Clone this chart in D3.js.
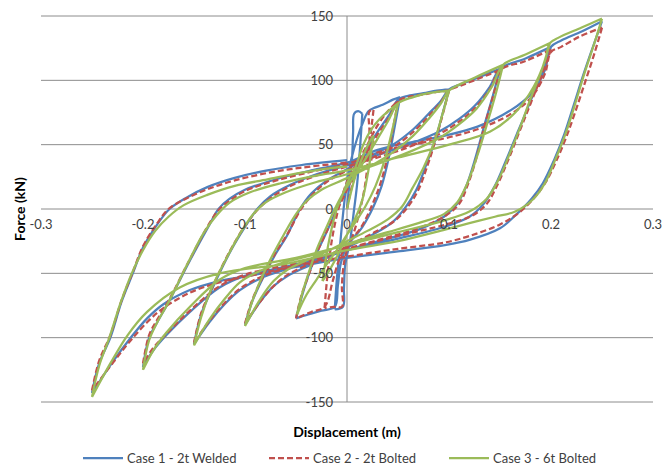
<!DOCTYPE html>
<html>
<head>
<meta charset="utf-8">
<script src="https://cdn.jsdelivr.net/npm/d3@7"></script>
<style>
  body { margin: 0; background: #fff; }
  svg text { font-family: Lato, "Liberation Sans", sans-serif; fill: #404040; }
</style>
</head>
<body>
<div id="chart"></div>
<script>
const xTicks = [-0.3, -0.2, -0.1, 0, 0.1, 0.2, 0.3];
const yTicks = [-150, -100, -50, 0, 50, 100, 150];
const seriesNames = ["Case 1 - 2t Welded", "Case 2 - 2t Bolted", "Case 3 - 6t Bolted"];

// displacement (m), force (kN)
const case1 = [
  [0,0],[0.003,25],[0.005,40],[0.006,60],[0.007,74],[0.011,76],[0.015,74],
  [0.013,50],[0.01,20],[0.007,0],[0.003,-25],[0,-36],[-0.002,-45],[-0.003,-62],[-0.004,-76],[-0.012,-78],
  [-0.01,-55],[-0.007,-30],[-0.004,-5],[0,22],[0.004,38],[0.01,55],[0.016,68],[0.021,76],[0.028,79],[0.035,81],[0.045,85],[0.052,87],
  [0.047,65],[0.041,40],[0.034,18],[0.026,2],[0.015,-14],[0,-29],[-0.006,-42],[-0.009,-60],[-0.012,-76],[-0.025,-79],[-0.038,-82],[-0.05,-85],
  [-0.045,-70],[-0.038,-52],[-0.03,-35],[-0.02,-18],[-0.01,0],[0,17],[0.008,30],[0.018,45],[0.03,60],[0.042,74],[0.05,85],[0.06,88],[0.075,90],[0.088,92],[0.1,93],
  [0.094,75],[0.087,55],[0.078,35],[0.068,15],[0.058,2],[0.045,-10],[0.025,-20],[0,-30],[-0.02,-38],[-0.04,-45],[-0.058,-52],[-0.072,-60],[-0.085,-72],[-0.1,-90],
  [-0.093,-72],[-0.082,-53],[-0.07,-35],[-0.059,-21],[-0.046,0],[-0.035,12],[-0.02,22],[0,31],[0.02,40],[0.045,50],[0.065,62],[0.08,74],[0.092,84],[0.1,93],[0.112,97],[0.128,102],[0.15,109],
  [0.143,88],[0.135,66],[0.126,40],[0.117,18],[0.108,4],[0.095,-6],[0.07,-16],[0.04,-23],[0,-32],[-0.03,-40],[-0.06,-47],[-0.085,-54],[-0.105,-63],[-0.12,-74],[-0.135,-88],[-0.15,-105],
  [-0.143,-82],[-0.131,-60],[-0.115,-34],[-0.1,-14],[-0.088,0],[-0.075,10],[-0.055,19],[-0.03,27],[0,34],[0.03,42],[0.06,50],[0.09,60],[0.11,70],[0.125,80],[0.14,95],[0.15,109],[0.175,117],[0.2,126],
  [0.19,104],[0.18,84],[0.168,61],[0.156,38],[0.145,18],[0.134,4],[0.12,-6],[0.095,-14],[0.05,-23],[0,-32],[-0.05,-43],[-0.1,-52],[-0.125,-61],[-0.154,-80],[-0.177,-98],[-0.19,-110],[-0.2,-123],
  [-0.194,-100],[-0.186,-88],[-0.174,-71],[-0.154,-40],[-0.134,-11],[-0.126,0],[-0.115,8],[-0.1,15],[-0.07,23],[-0.035,30],[0,36],[0.03,46],[0.064,52],[0.096,57],[0.128,64],[0.161,77],[0.181,90],[0.194,108],[0.2,126],[0.21,131],[0.23,138],[0.25,146],
  [0.242,128],[0.232,105],[0.222,80],[0.213,58],[0.203,38],[0.192,20],[0.181,8],[0.165,-5],[0.15,-15],[0.12,-24],[0.096,-28],[0.05,-33],[0,-38],[-0.05,-45],[-0.09,-51],[-0.125,-56],[-0.154,-63],[-0.18,-74],[-0.196,-85],[-0.213,-101],[-0.229,-118],[-0.25,-143],
  [-0.243,-120],[-0.232,-100],[-0.221,-72],[-0.21,-50],[-0.2,-30],[-0.186,-12],[-0.174,0],[-0.157,9],[-0.137,17],[-0.111,24],[-0.078,30],[-0.046,34],[-0.013,37],[0,38]
];

const case2 = [
  [0,0],[0.005,18],[0.01,30],[0.016,38],[0.021,42],[0.022,60],[0.022,76],[0.026,77],
  [0.022,50],[0.018,20],[0.013,0],[0.006,-20],[0,-32],[-0.003,-42],[-0.005,-60],[-0.005,-76],[-0.013,-76],[-0.022,-77],
  [-0.019,-50],[-0.015,-25],[-0.01,-5],[-0.004,12],[0.002,25],[0.01,36],[0.02,50],[0.03,65],[0.04,76],[0.05,84],
  [0.045,62],[0.039,38],[0.032,18],[0.024,2],[0.014,-14],[0,-28],[-0.008,-40],[-0.014,-56],[-0.022,-76],[-0.035,-80],[-0.05,-85],
  [-0.045,-68],[-0.037,-50],[-0.029,-33],[-0.019,-16],[-0.009,0],[0,15],[0.008,28],[0.018,42],[0.03,58],[0.042,72],[0.05,84],[0.06,87],[0.075,89],[0.088,91],[0.1,92],
  [0.094,74],[0.087,54],[0.079,34],[0.07,15],[0.06,2],[0.047,-9],[0.025,-19],[0,-29],[-0.02,-37],[-0.04,-44],[-0.058,-51],[-0.072,-60],[-0.085,-72],[-0.1,-89],
  [-0.093,-71],[-0.082,-52],[-0.07,-34],[-0.058,-19],[-0.045,0],[-0.034,11],[-0.02,21],[0,30],[0.02,38],[0.045,48],[0.065,60],[0.08,72],[0.092,83],[0.1,92],[0.112,96],[0.128,101],[0.15,108],
  [0.143,87],[0.135,65],[0.127,40],[0.118,18],[0.11,4],[0.097,-5],[0.07,-15],[0.04,-22],[0,-31],[-0.03,-39],[-0.06,-46],[-0.085,-53],[-0.105,-62],[-0.12,-73],[-0.135,-87],[-0.15,-104],
  [-0.143,-81],[-0.131,-59],[-0.115,-33],[-0.1,-13],[-0.087,0],[-0.074,9],[-0.055,18],[-0.03,26],[0,33],[0.03,40],[0.06,48],[0.09,58],[0.11,68],[0.125,78],[0.14,93],[0.15,108],[0.175,115],[0.2,124],
  [0.19,102],[0.18,82],[0.169,60],[0.158,38],[0.147,18],[0.137,4],[0.123,-5],[0.097,-12],[0.05,-21],[0,-31],[-0.05,-42],[-0.1,-51],[-0.125,-60],[-0.154,-79],[-0.177,-97],[-0.19,-108],[-0.2,-120],
  [-0.194,-98],[-0.186,-86],[-0.174,-70],[-0.154,-39],[-0.134,-10],[-0.125,0],[-0.114,7],[-0.1,14],[-0.07,22],[-0.035,29],[0,35],[0.03,44],[0.064,50],[0.096,55],[0.128,62],[0.161,74],[0.181,87],[0.194,105],[0.2,122],[0.21,126],[0.228,134],[0.25,141],
  [0.243,122],[0.234,100],[0.224,76],[0.215,56],[0.205,37],[0.195,21],[0.185,10],[0.17,-2],[0.15,-12],[0.12,-21],[0.096,-26],[0.05,-31],[0,-37],[-0.05,-44],[-0.09,-51],[-0.125,-57],[-0.154,-65],[-0.18,-77],[-0.196,-88],[-0.213,-103],[-0.229,-119],[-0.25,-141],
  [-0.243,-118],[-0.232,-98],[-0.221,-71],[-0.21,-49],[-0.2,-29],[-0.186,-11],[-0.175,0],[-0.158,8],[-0.138,15],[-0.111,22],[-0.078,28],[-0.046,32],[-0.013,35],[0,36]
];

const case3 = [
  [0,0],[0.008,25],[0.016,42],[0.022,52],[0.026,57],
  [0.021,30],[0.016,10],[0.012,0],[0.004,-14],[0,-20],[-0.008,-34],[-0.016,-46],[-0.024,-56],
  [-0.02,-35],[-0.015,-15],[-0.01,0],[-0.003,14],[0,20],[0.008,32],[0.016,50],[0.024,62],[0.032,70],[0.042,77],[0.05,82],
  [0.044,60],[0.037,38],[0.028,18],[0.018,2],[0.01,-8],[0,-20],[-0.01,-32],[-0.02,-43],[-0.03,-55],[-0.04,-67],[-0.049,-82],
  [-0.044,-66],[-0.037,-48],[-0.029,-30],[-0.02,-14],[-0.012,0],[-0.004,12],[0.004,22],[0.015,35],[0.028,52],[0.04,68],[0.05,82],[0.065,87],[0.08,90],[0.1,92],
  [0.093,72],[0.085,51],[0.075,32],[0.064,16],[0.054,2],[0.04,-8],[0.02,-17],[0,-25],[-0.02,-33],[-0.04,-40],[-0.058,-47],[-0.072,-56],[-0.085,-70],[-0.1,-91],
  [-0.093,-72],[-0.084,-54],[-0.073,-36],[-0.062,-20],[-0.05,-4],[-0.04,6],[-0.025,15],[0,24],[0.02,32],[0.045,44],[0.065,57],[0.08,70],[0.092,82],[0.1,92],[0.125,102],[0.153,112],
  [0.146,90],[0.138,68],[0.128,42],[0.118,20],[0.108,5],[0.095,-4],[0.07,-11],[0.04,-18],[0,-27],[-0.03,-35],[-0.06,-41],[-0.085,-48],[-0.105,-57],[-0.12,-70],[-0.135,-86],[-0.15,-106],
  [-0.143,-84],[-0.133,-62],[-0.118,-38],[-0.104,-18],[-0.092,-4],[-0.08,5],[-0.06,13],[-0.03,21],[0,27],[0.03,35],[0.06,44],[0.09,55],[0.11,66],[0.127,78],[0.142,95],[0.153,112],[0.175,120],[0.199,129],
  [0.19,106],[0.18,86],[0.17,64],[0.159,42],[0.148,22],[0.137,8],[0.12,-2],[0.095,-9],[0.05,-18],[0,-28],[-0.05,-38],[-0.1,-46],[-0.125,-55],[-0.154,-76],[-0.177,-96],[-0.19,-110],[-0.2,-125],
  [-0.194,-102],[-0.186,-88],[-0.174,-71],[-0.156,-42],[-0.14,-18],[-0.128,-5],[-0.115,5],[-0.095,13],[-0.065,20],[-0.03,26],[0,30],[0.05,40],[0.1,50],[0.14,60],[0.165,75],[0.183,95],[0.194,115],[0.199,129],[0.207,133],[0.23,141],[0.25,148],
  [0.243,130],[0.233,106],[0.223,80],[0.214,58],[0.204,38],[0.194,20],[0.183,8],[0.165,-2],[0.145,-6],[0.12,-11],[0.096,-16],[0.05,-25],[0,-32],[-0.056,-42],[-0.125,-50],[-0.164,-61],[-0.196,-80],[-0.215,-98],[-0.232,-120],[-0.25,-146],
  [-0.243,-122],[-0.233,-100],[-0.222,-73],[-0.211,-50],[-0.2,-32],[-0.188,-17],[-0.175,-6],[-0.16,3],[-0.137,11],[-0.11,18],[-0.078,23],[-0.046,28],[-0.014,32],[0,33]
];

const W = 665, H = 470;
const margin = {top: 16, right: 12, bottom: 68, left: 41};
const width = W - margin.left - margin.right,
      height = H - margin.top - margin.bottom;

const svg = d3.select("#chart").append("svg")
  .attr("width", W)
  .attr("height", H);

const g = svg.append("g")
  .attr("transform", `translate(${margin.left},${margin.top})`);

const x = d3.scaleLinear().domain([-0.3, 0.3]).range([0, width]);
const y = d3.scaleLinear().domain([-150, 150]).range([height, 0]);

// horizontal gridlines
g.selectAll(".grid")
  .data(yTicks)
  .enter().append("line")
  .attr("x1", 0).attr("x2", width)
  .attr("y1", d => y(d)).attr("y2", d => y(d))
  .attr("stroke", "#8c8c8c")
  .attr("stroke-width", 1);

// y axis sits at x = 0
g.append("line")
  .attr("x1", x(0)).attr("x2", x(0))
  .attr("y1", 0).attr("y2", height)
  .attr("stroke", "#8c8c8c");

const lineGen = d3.line()
  .x(d => x(d[0]))
  .y(d => y(d[1]))
  .curve(d3.curveCatmullRom.alpha(0.5));

// cut each loop at its turning points so the peaks stay sharp
function branches(pts) {
  const out = [];
  let cur = [pts[0]], dir = 0;
  for (let i = 1; i < pts.length; i++) {
    const s = Math.sign(pts[i][0] - pts[i - 1][0]);
    if (s !== 0 && dir !== 0 && s !== dir) {
      out.push(cur);
      cur = [pts[i - 1]];
    }
    if (s !== 0) dir = s;
    cur.push(pts[i]);
  }
  out.push(cur);
  return out;
}

const styles = [
  {data: case1, color: "#4f81bd", dash: null},
  {data: case2, color: "#c0504d", dash: "6,3"},
  {data: case3, color: "#9bbb59", dash: null}
];

styles.forEach(s => {
  g.append("path")
    .attr("fill", "none")
    .attr("stroke", s.color)
    .attr("stroke-width", 2.25)
    .attr("stroke-linejoin", "round")
    .attr("stroke-dasharray", s.dash)
    .attr("d", branches(s.data).map(b => lineGen(b)).join(""));
});

// tick labels
g.selectAll(".ylab")
  .data(yTicks)
  .enter().append("text")
  .attr("x", x(0) - 14)
  .attr("y", d => y(d))
  .attr("dy", "0.35em")
  .attr("text-anchor", "end")
  .style("font-size", "13px")
  .text(d => String(d));

g.selectAll(".xlab")
  .data(xTicks)
  .enter().append("text")
  .attr("x", d => x(d))
  .attr("y", y(0) + 20)
  .attr("text-anchor", "middle")
  .style("font-size", "13px")
  .text(d => String(d));

// axis titles
svg.append("text")
  .attr("transform", `translate(25,${margin.top + y(0)})rotate(-90)`)
  .attr("text-anchor", "middle")
  .style("font-size", "14px")
  .style("font-weight", "bold")
  .style("fill", "#000")
  .text("Force (kN)");

svg.append("text")
  .attr("x", margin.left + x(0))
  .attr("y", 437)
  .attr("text-anchor", "middle")
  .style("font-size", "14px")
  .style("font-weight", "bold")
  .style("fill", "#000")
  .text("Displacement (m)");

// legend
const legendX = [83, 269, 449];
const legend = svg.selectAll(".legend")
  .data(styles)
  .enter().append("g")
  .attr("transform", (d, i) => `translate(${legendX[i]},458)`);

legend.append("line")
  .attr("x1", 0).attr("x2", 40)
  .attr("stroke", d => d.color)
  .attr("stroke-width", 2.25)
  .attr("stroke-dasharray", d => d.dash);

legend.append("text")
  .attr("x", 44)
  .attr("dy", "0.35em")
  .style("font-size", "13px")
  .text((d, i) => seriesNames[i]);
</script>
</body>
</html>
